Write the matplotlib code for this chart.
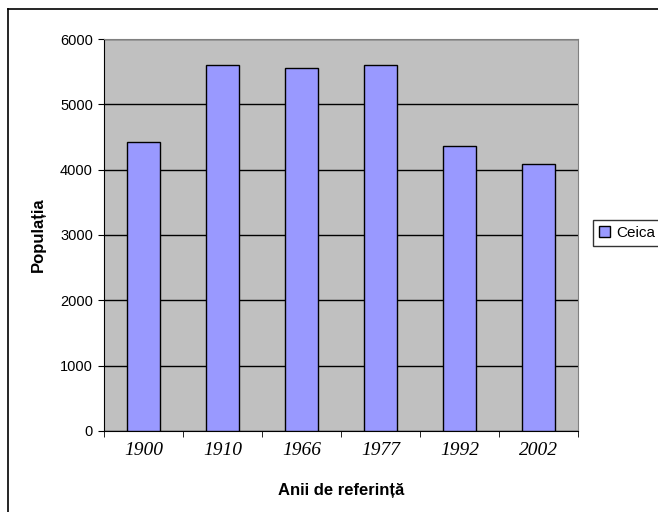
import matplotlib
matplotlib.use("Agg")
import matplotlib.pyplot as plt
from matplotlib.lines import Line2D

# date populatie Ceica
ani = ['1900', '1910', '1966', '1977', '1992', '2002']
populatie = [4430, 5600, 5560, 5600, 4360, 4090]
serie = 'Ceica'

fig = plt.figure(figsize=(6.58, 5.12), dpi=100)
fig.patch.set_facecolor('white')

# chenarul exterior (doar stanga si sus se vad in imagine)
fx = 8 / 658
fy = 1 - 9 / 512
fig.lines.append(Line2D([fx, fx], [0, fy], transform=fig.transFigure,
                        color='black', linewidth=1.2))
fig.lines.append(Line2D([fx, 1], [fy, fy], transform=fig.transFigure,
                        color='black', linewidth=1.2))

ax = fig.add_axes([104 / 658, 81 / 512, 474 / 658, 392 / 512])
ax.set_facecolor('#C0C0C0')

x = list(range(len(ani)))
ax.bar(x, populatie, width=0.42, color='#9999FF', edgecolor='black',
       linewidth=1.0, label=serie, zorder=3)

ax.set_ylim(0, 6000)
ax.set_xlim(-0.5, len(ani) - 0.5)
ax.set_yticks(range(0, 6001, 1000))
ax.yaxis.grid(True, color='black', linewidth=1.0, zorder=1)
ax.set_axisbelow(True)

# etichete ani in mijlocul categoriei, semne de diviziune intre categorii
ax.set_xticks(x)
ax.set_xticklabels(ani, fontfamily='Liberation Serif', fontstyle='italic',
                   fontsize=14)
ax.tick_params(axis='x', length=0, pad=8)
ax.set_xticks([i - 0.5 for i in range(len(ani) + 1)], minor=True)
ax.tick_params(axis='x', which='minor', length=4, direction='out')
ax.tick_params(axis='y', length=4, direction='out', pad=4)
for lab in ax.get_yticklabels():
    lab.set_fontfamily('Liberation Sans')
    lab.set_fontsize(10.5)

ax.spines['top'].set_color('#808080')
ax.spines['right'].set_color('#808080')

etichete = ['Liberation Sans Narrow', 'Liberation Sans', 'DejaVu Sans']
ax.set_xlabel('Anii de referință', fontfamily=etichete, fontweight='bold',
              fontsize=12, labelpad=17)
ax.set_ylabel('Populația', fontfamily=etichete, fontweight='bold',
              fontsize=12, labelpad=10)

leg = fig.legend(loc='center left', bbox_to_anchor=(593 / 658, 1 - 233 / 512),
                 frameon=True, fancybox=False, edgecolor='black',
                 prop={'family': 'Liberation Sans', 'size': 11},
                 handlelength=0.7, handleheight=0.7, handletextpad=0.4,
                 borderpad=0.4, borderaxespad=0)
leg.get_frame().set_linewidth(1.0)

fig.savefig('out.png', dpi=100)
